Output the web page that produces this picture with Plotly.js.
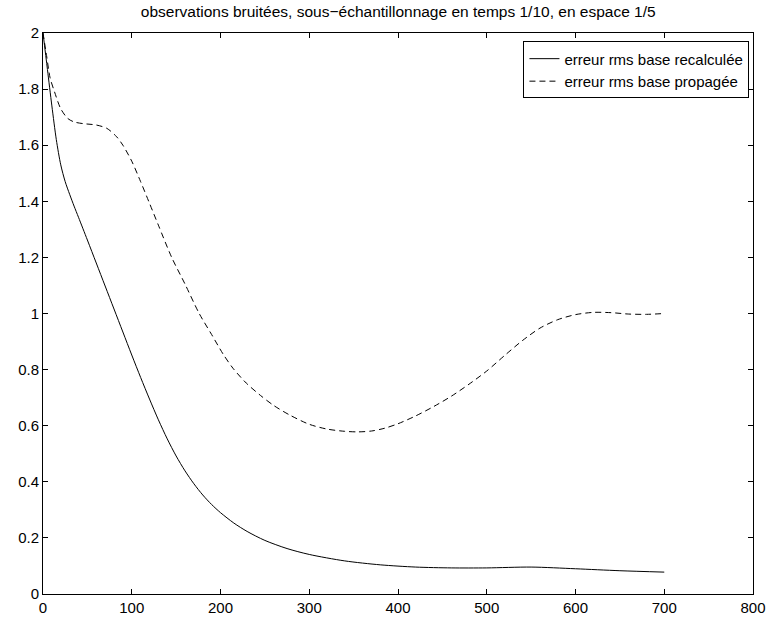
<!DOCTYPE html>
<html>
<head>
<meta charset="utf-8">
<script src="https://cdn.plot.ly/plotly-3.0.1.min.js"></script>
<style>html,body{margin:0;padding:0;background:#fff;}#chart{width:771px;height:621px;}</style>
</head>
<body>
<div id="chart"></div>
<script>
const solidX = [0, 5, 10, 15, 20, 25, 30, 35, 40, 50, 60, 70, 80, 90, 100, 110, 120, 130, 140, 150, 160, 170, 180, 190, 200, 215, 230, 250, 275, 300, 340, 380, 420, 460, 500, 550, 600, 650, 700];
const solidY = [2.0, 1.87, 1.74, 1.62, 1.53, 1.47, 1.425, 1.383, 1.343, 1.262, 1.180, 1.098, 1.016, 0.934, 0.852, 0.772, 0.695, 0.621, 0.553, 0.492, 0.439, 0.393, 0.353, 0.319, 0.290, 0.253, 0.223, 0.191, 0.162, 0.141, 0.118, 0.104, 0.096, 0.093, 0.093, 0.096, 0.090, 0.083, 0.078];
const dashX = [0, 4, 8, 13, 20, 28, 35, 45, 60, 72, 83, 90, 100, 110, 120, 130, 145, 160, 176, 190, 203, 214, 229, 245, 260, 278, 300, 320, 340, 355, 370, 385, 400, 420, 440, 460, 480, 500, 520, 540, 560, 580, 600, 620, 640, 660, 680, 700];
const dashY = [2.0, 1.92, 1.84, 1.79, 1.73, 1.695, 1.683, 1.677, 1.672, 1.66, 1.63, 1.60, 1.543, 1.47, 1.393, 1.315, 1.20, 1.105, 1.0, 0.925, 0.855, 0.805, 0.752, 0.708, 0.672, 0.638, 0.605, 0.588, 0.58, 0.578, 0.581, 0.591, 0.607, 0.635, 0.668, 0.705, 0.748, 0.795, 0.85, 0.903, 0.948, 0.978, 0.996, 1.004, 1.003, 0.998, 0.997, 1.0];
const names = ["erreur rms base recalculée", "erreur rms base propagée"];
const titleText = "observations bruitées, sous\u2212échantillonnage en temps 1/10, en espace 1/5";
const xTicks = [0, 100, 200, 300, 400, 500, 600, 700, 800];
const yTicks = [0, 0.2, 0.4, 0.6, 0.8, 1, 1.2, 1.4, 1.6, 1.8, 2];

const font = {family: "Liberation Sans, Arial, sans-serif", size: 15, color: "#000"};
const traces = [
  {x: solidX, y: solidY, name: names[0], mode: "lines", line: {color: "#000", width: 1, shape: "spline", smoothing: 0.8}},
  {x: dashX, y: dashY, name: names[1], mode: "lines", line: {color: "#000", width: 1, dash: "6px,4px", shape: "spline", smoothing: 0.8}}
];
const axisCommon = {
  showgrid: false, zeroline: false, showline: true, linecolor: "#000", linewidth: 1,
  mirror: "allticks", ticks: "inside", ticklen: 5, tickcolor: "#000", tickwidth: 1,
  tickfont: font
};
const layout = {
  width: 771, height: 621,
  margin: {l: 43, r: 18, t: 33, b: 27},
  paper_bgcolor: "#fff", plot_bgcolor: "#fff",
  font: font,
  title: {text: titleText, font: {family: font.family, size: 15.5, color: "#000"}, x: 0.5165, xanchor: "center", y: 0.982, yanchor: "middle"},
  xaxis: Object.assign({}, axisCommon, {range: [0, 800], tickvals: xTicks, ticktext: xTicks.map(String)}),
  yaxis: Object.assign({}, axisCommon, {range: [0, 2], tickvals: yTicks, ticktext: yTicks.map(String)}),
  showlegend: true,
  legend: {x: 0.995, y: 0.985, xanchor: "right", yanchor: "top", bgcolor: "#fff", bordercolor: "#000", borderwidth: 1, font: font, tracegroupgap: 0, itemwidth: 30}
};
Plotly.newPlot("chart", traces, layout, {staticPlot: true, displayModeBar: false});
</script>
</body>
</html>
